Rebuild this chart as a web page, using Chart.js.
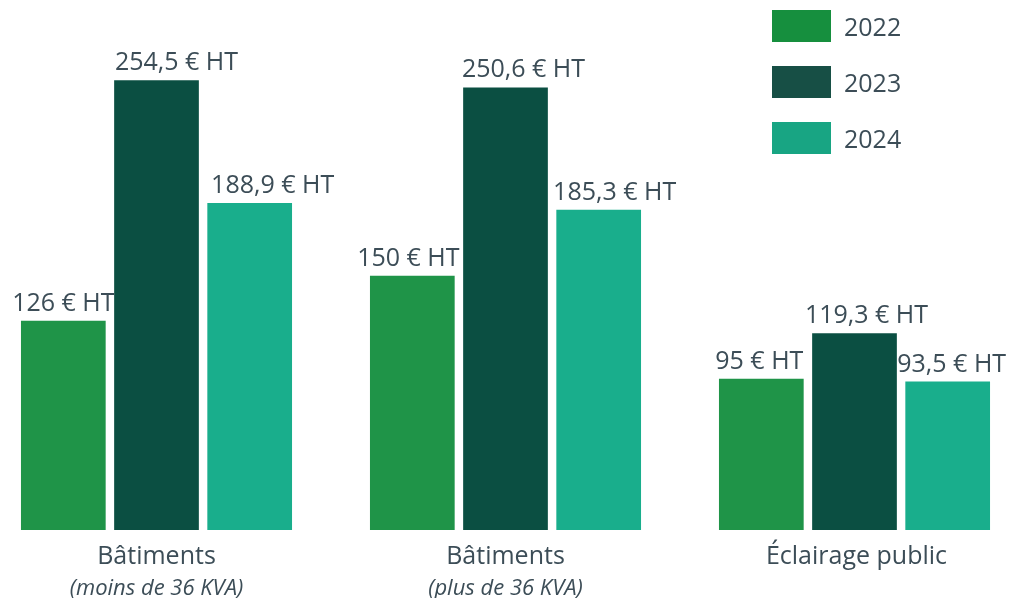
<!DOCTYPE html>
<html>
<head>
<meta charset="utf-8">
<script src="https://cdn.jsdelivr.net/npm/chart.js@4"></script>
<style>
  html, body { margin: 0; padding: 0; background: #fff; overflow: hidden; }
  #wrap { position: relative; width: 1009px; height: 598px; overflow: hidden; }
  #myChart { position: absolute; left: -18px; top: 0; }
  #legend { position: absolute; left: 772px; top: 10px; font-family: "Open Sans", sans-serif; font-size: 25px; color: #3c4d57; }
  #legend .item { display: flex; align-items: center; height: 32px; margin-bottom: 24px; }
  #legend .box { width: 59px; height: 32px; margin-right: 13px; }
</style>
</head>
<body>
<div id="wrap">
  <canvas id="myChart" width="1047" height="598"></canvas>
  <div id="legend"></div>
</div>
<script>
// données
const categories = ["Bâtiments", "Bâtiments", "Éclairage public"];
const subLabels = ["(moins de 36 KVA)", "(plus de 36 KVA)", ""];
const years = ["2022", "2023", "2024"];
const values2022 = [126, 150, 95];
const values2023 = [254.5, 250.6, 119.3];
const values2024 = [188.9, 185.3, 93.5];
const valueLabels2022 = ["126 € HT", "150 € HT", "95 € HT"];
const valueLabels2023 = ["254,5 € HT", "250,6 € HT", "119,3 € HT"];
const valueLabels2024 = ["188,9 € HT", "185,3 € HT", "93,5 € HT"];

const barColors = ["#1f9448", "#0b4f42", "#19ae8c"];
const legendColors = ["#168f3e", "#174f45", "#18a583"];
const textColor = "#3c4d57";

const allLabels = [valueLabels2022, valueLabels2023, valueLabels2024];
// petit décalage horizontal des étiquettes (px), comme sur l'original
const labelShift = [[0, -4, -2], [20, 18, 12], [23, 16, 4]];

// étiquettes au-dessus des barres + libellés de catégories
const labelsPlugin = {
  id: "labelsPlugin",
  afterDatasetsDraw(chart) {
    const ctx = chart.ctx;
    ctx.save();
    ctx.fillStyle = textColor;
    ctx.textAlign = "center";
    ctx.textBaseline = "alphabetic";
    ctx.font = '25px "Open Sans"';
    chart.data.datasets.forEach((ds, i) => {
      chart.getDatasetMeta(i).data.forEach((bar, j) => {
        ctx.fillText(allLabels[i][j], bar.x + labelShift[i][j], bar.y - 10);
      });
    });
    const x = chart.scales.x;
    categories.forEach((c, j) => {
      const cx = x.getPixelForValue(j) + (j == 2 ? 2 : 0);
      ctx.font = '25px "Open Sans"';
      ctx.fillText(c, cx, 564);
      if (subLabels[j]) {
        ctx.font = 'italic 22px "Open Sans"';
        ctx.fillText(subLabels[j], cx, 595);
      }
    });
    ctx.restore();
  }
};

const ctx = document.getElementById("myChart").getContext("2d");
new Chart(ctx, {
  type: "bar",
  data: {
    labels: categories.map((c, i) => c + " " + subLabels[i]),
    datasets: [
      { label: years[0], data: values2022, backgroundColor: barColors[0] },
      { label: years[1], data: values2023, backgroundColor: barColors[1] },
      { label: years[2], data: values2024, backgroundColor: barColors[2] },
    ],
  },
  options: {
    responsive: false,
    animation: false,
    layout: { padding: { top: 0, bottom: 68, left: 0, right: 0 } },
    datasets: { bar: { categoryPercentage: 0.801, barPercentage: 0.909 } },
    plugins: { legend: { display: false }, tooltip: { enabled: false } },
    scales: {
      x: { display: false },
      y: { display: false, min: 14.2, max: 297.3 },
    },
  },
  plugins: [labelsPlugin],
});

// légende
const legend = document.getElementById("legend");
years.forEach((y, i) => {
  const item = document.createElement("div");
  item.className = "item";
  item.innerHTML = '<div class="box" style="background:' + legendColors[i] + '"></div><span>' + y + "</span>";
  legend.appendChild(item);
});
</script>
</body>
</html>
